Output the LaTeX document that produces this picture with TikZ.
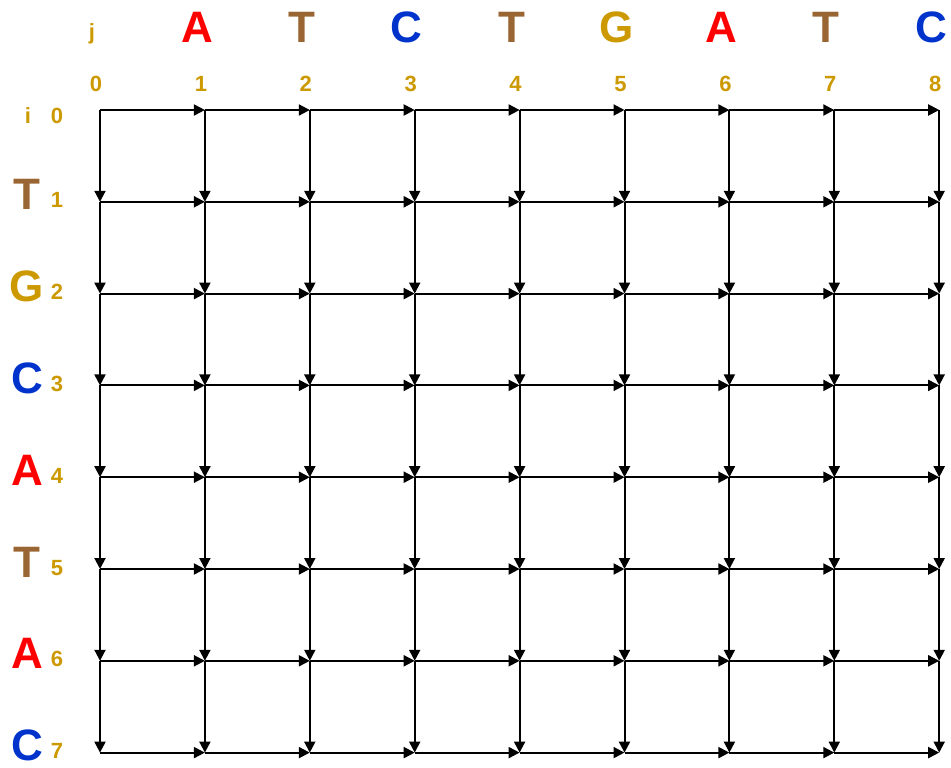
\documentclass[tikz,border=0pt]{standalone}
\usepackage{fontspec}
\setmainfont{Liberation Sans}
\usetikzlibrary{arrows.meta}
\definecolor{baseA}{RGB}{255,0,0}
\definecolor{baseT}{RGB}{153,102,51}
\definecolor{baseC}{RGB}{0,51,204}
\definecolor{baseG}{RGB}{204,153,0}
\definecolor{idxcol}{RGB}{204,153,0}

\begin{document}
\begin{tikzpicture}
  [x=1pt,y=-1pt,
   base/.style={anchor=base,inner sep=0pt,font=\fontsize{44}{44}\bfseries\selectfont},
   idx/.style={anchor=base,inner sep=0pt,text=idxcol,font=\fontsize{22}{22}\bfseries\selectfont},
   move/.style={-{Triangle[length=11pt,width=11pt]},line width=2pt}]
  \useasboundingbox (0,0) rectangle (951,768);

  % grid points
  \foreach \i in {0,...,7}
    \foreach \j in {0,...,8}
      \coordinate (n-\i-\j) at ({100+104.9*\j},{110+91.8*\i});

  % column string and indices
  \node[idx] (jlab) at (92,40) {j};
  \foreach \j/\b in {1/A, 2/T, 3/C, 4/T, 5/G, 6/A, 7/T, 8/C}
    \node[base,text=base\b] (top\j) at ({100+104.9*\j-8},43) {\b};
  \foreach \j in {0,...,8}
    \node[idx] (cnum\j) at ({100+104.9*\j-4},92) {\j};

  % row string and indices
  \node[idx] (ilab) at (28,123) {i};
  \node[idx] (rnum0) at (57,123) {0};
  \foreach \i/\b in {1/T, 2/G, 3/C, 4/A, 5/T, 6/A, 7/C}{
    \node[base,text=base\b] (side\i) at (27,{110+91.8*\i+8}) {\b};
    \node[idx] (rnum\i) at (57,{110+91.8*\i+6}) {\i};
  }

  % horizontal moves
  \foreach \i in {0,...,7}
    \foreach \from/\to in {0/1, 1/2, 2/3, 3/4, 4/5, 5/6, 6/7, 7/8}
      \draw[move] (n-\i-\from) -- (n-\i-\to);

  % vertical moves
  \foreach \from/\to in {0/1, 1/2, 2/3, 3/4, 4/5, 5/6, 6/7}
    \foreach \j in {0,...,8}
      \draw[move] (n-\from-\j) -- (n-\to-\j);

\end{tikzpicture}
\end{document}
